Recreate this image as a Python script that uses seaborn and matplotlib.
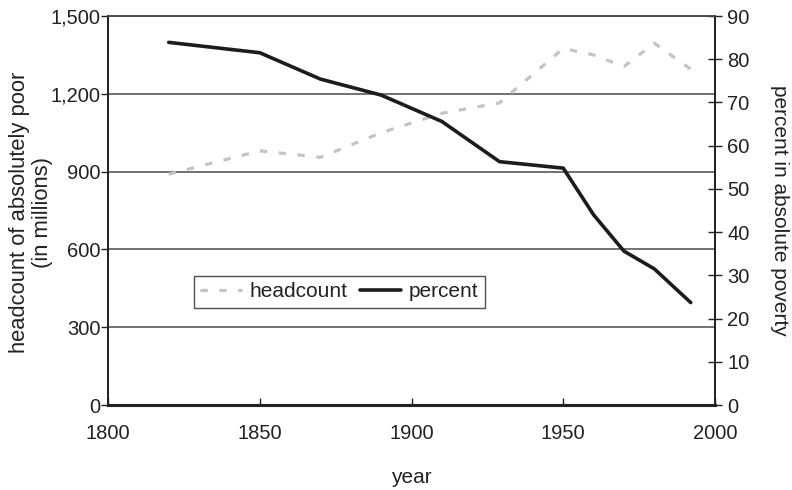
import matplotlib
matplotlib.use("Agg")
import matplotlib.pyplot as plt
import seaborn as sns
import pandas as pd
from matplotlib.lines import Line2D

years = [1820, 1850, 1870, 1890, 1910, 1929, 1950, 1960, 1970, 1980, 1992]
headcount = [890, 980, 955, 1050, 1125, 1165, 1375, 1350, 1305, 1395, 1295]
percent = [83.9, 81.5, 75.4, 71.7, 65.6, 56.3, 54.8, 44.0, 35.6, 31.5, 23.7]

left_ticks = [0, 300, 600, 900, 1200, 1500]
left_labels = ["0", "300", "600", "900", "1,200", "1,500"]
right_ticks = list(range(0, 91, 10))
x_ticks = [1800, 1850, 1900, 1950, 2000]

df = pd.DataFrame({"year": years, "headcount": headcount, "percent": percent})

sns.set_theme(style="white")
plt.rcParams["font.family"] = ["Liberation Sans", "DejaVu Sans"]

FS = 14.5
fig = plt.figure(figsize=(7.92, 4.90), dpi=100)
ax = fig.add_axes([108 / 792, 1 - 405 / 490, (715 - 108) / 792, (405 - 16) / 490])
ax2 = ax.twinx()

gray = "#c4c4c4"
dark = "#1c1c1c"
txt = "#222222"

sns.lineplot(data=df, x="year", y="headcount", ax=ax, color=gray, linewidth=2.3,
             dashes=False, zorder=3)
ax.lines[0].set_dashes((2.3, 3.6))
sns.lineplot(data=df, x="year", y="percent", ax=ax2, color=dark, linewidth=2.6, zorder=3)
for ln in ax2.lines:
    ln.set_solid_capstyle("round")
    ln.set_solid_joinstyle("round")

ax.set_xlim(1800, 2000)
ax.set_ylim(0, 1500)
ax2.set_ylim(0, 90)
ax.set_xticks(x_ticks)
ax.set_yticks(left_ticks)
ax.set_yticklabels(left_labels)
ax2.set_yticks(right_ticks)

ax.yaxis.grid(True, color="#4a4a4a", linewidth=1.1)
ax.xaxis.grid(False)
ax.set_axisbelow(True)

for a in (ax, ax2):
    for s in a.spines.values():
        s.set_color(txt)
        s.set_linewidth(1.3)
    a.spines["top"].set_color("#4a4a4a")
    a.spines["top"].set_linewidth(1.1)
ax.spines["bottom"].set_linewidth(2.2)
ax2.spines["bottom"].set_linewidth(2.2)

ax.tick_params(axis="y", which="both", left=True, direction="out", length=5, width=1,
               color=txt, labelsize=FS, pad=0.5, labelcolor=txt)
ax.tick_params(axis="x", bottom=True, direction="in", length=5, width=1,
               color=txt, labelsize=FS, pad=14, labelcolor=txt)
ax2.tick_params(axis="y", right=True, direction="inout", length=10, width=1,
                color=txt, labelsize=FS, pad=4, labelcolor=txt)

ax.set_xlabel("year", fontsize=15, color=txt, labelpad=18)
ax.set_ylabel("headcount of absolutely poor\n(in millions)", fontsize=15.8,
              color=txt, linespacing=1.1)
ax.yaxis.set_label_coords((53 - 108) / 607, 0.495)
ax2.set_ylabel("percent in absolute poverty", fontsize=15, color=txt,
               rotation=270, labelpad=28)

handles = [Line2D([], [], color=gray, linewidth=2.3, dashes=(2.3, 3.6)),
           Line2D([], [], color=dark, linewidth=2.6)]
leg = ax2.legend(handles, ["headcount", "percent"], ncol=2, loc="upper left",
                 bbox_to_anchor=((194 - 108) / 607, (405 - 276) / 389),
                 frameon=True, fancybox=False, fontsize=15, handlelength=2.0,
                 handletextpad=0.35, columnspacing=0.6, borderpad=0.3,
                 borderaxespad=0)
leg.get_frame().set_edgecolor(txt)
leg.get_frame().set_linewidth(1.0)
for t in leg.get_texts():
    t.set_color(txt)

fig.savefig("out.png", dpi=100)
